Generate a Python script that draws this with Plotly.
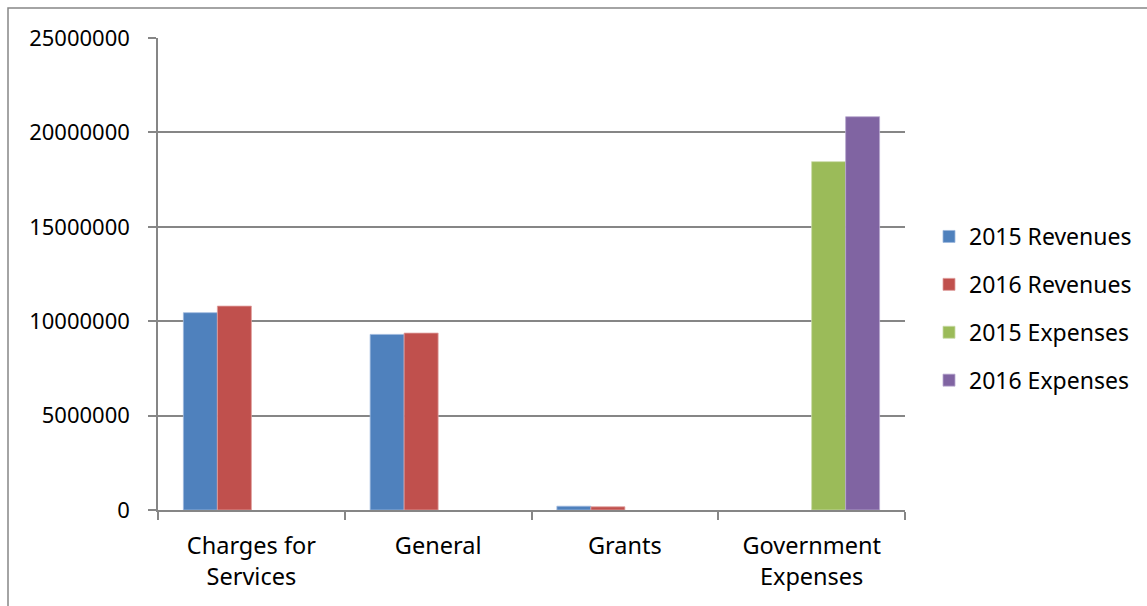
import plotly.graph_objects as go

categories = ["Charges for<br>Services", "General", "Grants", "Government<br>Expenses"]
rev_2015 = [10450000, 9300000, 200000, None]
rev_2016 = [10800000, 9370000, 170000, None]
exp_2015 = [None, None, None, 18450000]
exp_2016 = [None, None, None, 20830000]

series = [
    ("2015 Revenues", rev_2015, "#4F81BD", "#9DB8DD"),
    ("2016 Revenues", rev_2016, "#C0504D", "#E0A09E"),
    ("2015 Expenses", exp_2015, "#9BBB59", "#C9DBA8"),
    ("2016 Expenses", exp_2016, "#8064A2", "#B8A8CF"),
]
y_ticks = [0, 5000000, 10000000, 15000000, 20000000, 25000000]

fig = go.Figure()
for i, (name, vals, col, edge) in enumerate(series):
    fig.add_trace(go.Bar(
        x=categories, y=vals, name=name, legendgroup=f"g{i}",
        marker=dict(color=col, line=dict(color=edge, width=0.8)),
    ))

FONT = "Noto Sans, Carlito, Calibri, sans-serif"
fig.update_layout(
    width=1147, height=606,
    margin=dict(l=158, r=242, t=38, b=96),
    paper_bgcolor="white", plot_bgcolor="white",
    barmode="group", bargap=0.272, bargroupgap=0,
    font=dict(family=FONT, size=22, color="black"),
    showlegend=True,
    legend=dict(xref="container", yref="container",
                x=929 / 1147, xanchor="left", y=1 - 308.5 / 606, yanchor="middle",
                font=dict(family=FONT, size=23, color="black"),
                tracegroupgap=15, bgcolor="rgba(0,0,0,0)"),
    xaxis=dict(
        showgrid=False, showline=True, linecolor="#868686", linewidth=1.5,
        ticks="outside", tickson="boundaries", ticklen=8, tickcolor="#868686",
        tickwidth=1.5, tickfont=dict(family=FONT, size=23.5, color="black"),
        ticklabelstandoff=14, zeroline=False,
    ),
    yaxis=dict(
        range=[0, 25000000], tickvals=y_ticks,
        ticktext=[str(v) for v in y_ticks],
        showgrid=True, gridcolor="#868686", gridwidth=1.5,
        showline=True, linecolor="#868686", linewidth=1.5,
        ticks="outside", ticklen=8, tickcolor="#868686", tickwidth=1.5,
        tickfont=dict(family=FONT, size=22, color="black"),
        ticklabelstandoff=14, zeroline=False,
    ),
    shapes=[dict(type="rect", xref="paper", yref="paper",
                 x0=(8 - 158) / 747, x1=1.5, y0=-0.5, y1=(510 - 8) / 472,
                 line=dict(color="#868686", width=1.5), layer="below")],
)

fig.write_html("out.html")
